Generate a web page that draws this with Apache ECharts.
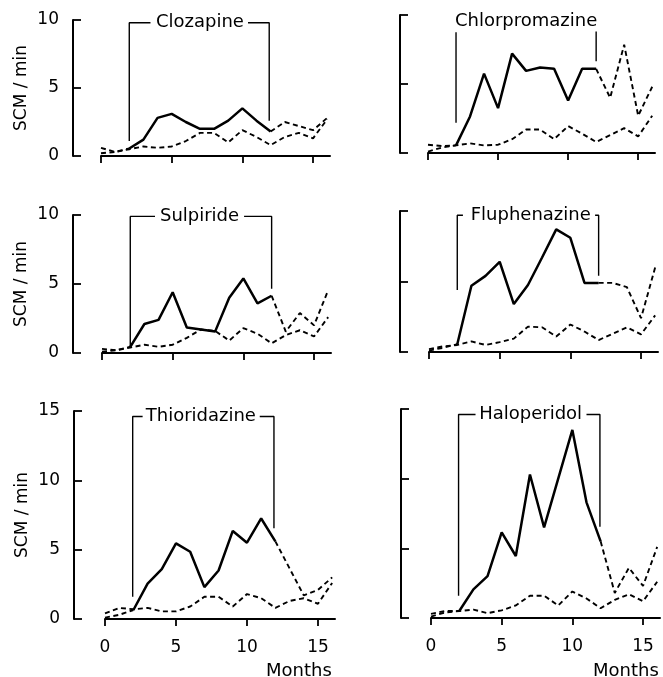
<!DOCTYPE html>
<html>
<head>
<meta charset="utf-8">
<script src="https://cdn.jsdelivr.net/npm/echarts@6/dist/echarts.min.js"></script>
<style>
  html, body { margin: 0; padding: 0; background: #fff; }
  #chart { width: 663px; height: 677px; }
</style>
</head>
<body>
<div id="chart"></div>
<script>
// months 0..16, treatment from month 2 to month 12
const months = [0, 1, 2, 3, 4, 5, 6, 7, 8, 9, 10, 11, 12, 13, 14, 15, 16]
const monthTicks = [0, 5, 10, 15]
const startMonth = 2
const stopMonth = 12

const clozapineDrug = [0.2, 0.3, 0.55, 1.2, 2.8, 3.1, 2.5, 2.0, 2.0, 2.6, 3.5, 2.6, 1.8, 2.5, 2.2, 1.9, 2.8]
const clozapineControl = [0.6, 0.3, 0.5, 0.7, 0.6, 0.7, 1.1, 1.7, 1.7, 1.0, 1.9, 1.4, 0.8, 1.4, 1.7, 1.3, 2.7]
const chlorpromazineDrug = [0.1, 0.4, 0.55, 2.65, 5.75, 3.25, 7.2, 5.95, 6.2, 6.1, 3.8, 6.1, 6.1, 4.0, 7.85, 2.7, 4.8]
const chlorpromazineControl = [0.6, 0.5, 0.55, 0.7, 0.55, 0.6, 1.0, 1.7, 1.7, 1.0, 1.95, 1.4, 0.8, 1.3, 1.8, 1.2, 2.7]
const sulpirideDrug = [0.1, 0.2, 0.45, 2.1, 2.4, 4.4, 1.85, 1.7, 1.55, 4.0, 5.4, 3.6, 4.15, 1.55, 2.9, 2.0, 4.55]
const sulpirideControl = [0.3, 0.2, 0.4, 0.6, 0.45, 0.6, 1.1, 1.7, 1.6, 0.9, 1.8, 1.4, 0.7, 1.3, 1.65, 1.2, 2.6]
const fluphenazineDrug = [0.1, 0.3, 0.55, 4.7, 5.4, 6.4, 3.4, 4.75, 6.7, 8.7, 8.1, 4.9, 4.9, 4.9, 4.6, 2.4, 6.0]
const fluphenazineControl = [0.2, 0.4, 0.5, 0.75, 0.5, 0.7, 0.95, 1.8, 1.75, 1.1, 1.95, 1.45, 0.85, 1.3, 1.75, 1.25, 2.6]
const thioridazineDrug = [0.1, 0.3, 0.65, 2.55, 3.6, 5.45, 4.85, 2.3, 3.5, 6.35, 5.5, 7.25, 5.6, 3.65, 1.7, 2.1, 3.0]
const thioridazineControl = [0.4, 0.8, 0.7, 0.8, 0.55, 0.55, 0.9, 1.6, 1.6, 0.9, 1.8, 1.5, 0.8, 1.3, 1.5, 1.1, 2.6]
const haloperidolDrug = [0.1, 0.4, 0.5, 2.05, 3.0, 6.15, 4.45, 10.3, 6.5, 10.0, 13.5, 8.3, 5.5, 1.8, 3.6, 2.3, 5.1]
const haloperidolControl = [0.3, 0.5, 0.5, 0.6, 0.35, 0.55, 0.9, 1.6, 1.6, 0.9, 1.9, 1.4, 0.7, 1.3, 1.7, 1.2, 2.6]

// treatment brackets [month, value]
const clozapineBracketL = [[2, 1.1], [2, 9.8], [3.5, 9.8]]
const clozapineBracketR = [[10.4, 9.8], [11.9, 9.8], [11.9, 2.6]]
const chlorpromazineBracketL = [[2, 2.2], [2, 8.75]]
const chlorpromazineBracketR = [[12, 6.65], [12, 8.8]]
const sulpirideBracketL = [[2, 0.5], [2, 9.9], [3.75, 9.9]]
const sulpirideBracketR = [[10.05, 9.9], [12, 9.9], [12, 4.65]]
const fluphenazineBracketL = [[2, 4.4], [2, 9.7], [2.4, 9.7]]
const fluphenazineBracketR = [[11.75, 9.7], [12, 9.7], [12, 5.4]]
const thioridazineBracketL = [[1.95, 1.6], [1.95, 14.6], [2.65, 14.6]]
const thioridazineBracketR = [[10.9, 14.6], [11.9, 14.6], [11.9, 6.55]]
const haloperidolBracketL = [[1.95, 1.6], [1.95, 14.6], [3.15, 14.6]]
const haloperidolBracketR = [[11.0, 14.6], [11.95, 14.6], [11.95, 6.55]]

const drugNames = ['Clozapine', 'Chlorpromazine', 'Sulpiride', 'Fluphenazine', 'Thioridazine', 'Haloperidol']
const titlePos = [[7.0, 9.8], [7.0, 9.55], [6.9, 9.9], [7.2, 9.7], [6.75, 14.6], [7.05, 14.6]]
const yMax = [10, 10, 10, 10, 15, 15]

const drugs = [clozapineDrug, chlorpromazineDrug, sulpirideDrug, fluphenazineDrug, thioridazineDrug, haloperidolDrug]
const controls = [clozapineControl, chlorpromazineControl, sulpirideControl, fluphenazineControl, thioridazineControl, haloperidolControl]
const bracketsL = [clozapineBracketL, chlorpromazineBracketL, sulpirideBracketL, fluphenazineBracketL, thioridazineBracketL, haloperidolBracketL]
const bracketsR = [clozapineBracketR, chlorpromazineBracketR, sulpirideBracketR, fluphenazineBracketR, thioridazineBracketR, haloperidolBracketR]

// layout of the six panels (pixels)
const layout = [
  { left: 101, top: 20, width: 229, height: 136, offset: 28 },
  { left: 428, top: 15, width: 227, height: 138, offset: 28 },
  { left: 102, top: 215, width: 229, height: 138, offset: 29 },
  { left: 429, top: 211, width: 229, height: 141, offset: 29 },
  { left: 105, top: 411, width: 230, height: 208, offset: 31 },
  { left: 431, top: 409, width: 229, height: 209, offset: 30 }
]

const FONT = 'DejaVu Sans'
const dashed = [5, 3.5]

function pts(vals, from, to) {
  const out = []
  for (let m = from; m <= to; m++) out.push([months[m], vals[m]])
  return out
}

const grid = [], xAxis = [], yAxis = [], series = []

layout.forEach((l, i) => {
  const leftCol = i % 2 === 0
  const bottomRow = i >= 4
  grid.push({ left: l.left, top: l.top, width: l.width, height: l.height })
  xAxis.push({
    type: 'value', gridIndex: i, min: 0, max: 16.2,
    axisLine: { show: true, onZero: false, lineStyle: { color: '#000', width: 2 } },
    axisTick: { show: true, length: 7, customValues: monthTicks, lineStyle: { color: '#000', width: 1.8 } },
    axisLabel: {
      show: bottomRow, customValues: monthTicks, margin: 20,
      color: '#000', fontSize: 17, fontFamily: FONT
    },
    splitLine: { show: false }
  })
  yAxis.push({
    type: 'value', gridIndex: i, min: 0, max: yMax[i], interval: 5,
    offset: l.offset,
    name: leftCol ? 'SCM / min' : '',
    nameLocation: 'middle', nameGap: 43,
    nameTextStyle: { color: '#000', fontSize: 17, fontFamily: FONT },
    axisLine: { show: true, onZero: false, lineStyle: { color: '#000', width: 2 } },
    axisTick: { show: true, inside: true, length: 8, lineStyle: { color: '#000', width: 1.8 } },
    axisLabel: { show: leftCol, margin: 14, color: '#000', fontSize: 17, fontFamily: FONT },
    splitLine: { show: false }
  })

  const base = { type: 'line', xAxisIndex: i, yAxisIndex: i, symbol: 'none', silent: true, z: 3 }
  // control group
  series.push(Object.assign({}, base, {
    data: pts(controls[i], 0, 16),
    lineStyle: { color: '#000', width: 1.9, type: dashed }
  }))
  // drug group: before, during and after treatment
  series.push(Object.assign({}, base, {
    data: pts(drugs[i], 0, startMonth),
    lineStyle: { color: '#000', width: 1.9, type: dashed }
  }))
  series.push(Object.assign({}, base, {
    data: pts(drugs[i], startMonth, stopMonth),
    lineStyle: { color: '#000', width: 2.5, type: 'solid' }
  }))
  series.push(Object.assign({}, base, {
    data: pts(drugs[i], stopMonth, 16),
    lineStyle: { color: '#000', width: 1.9, type: dashed }
  }))
  // treatment bracket
  ;[bracketsL[i], bracketsR[i]].forEach(b => {
    series.push(Object.assign({}, base, {
      data: b, z: 2,
      lineStyle: { color: '#000', width: 1.4, type: 'solid' }
    }))
  })
  series.push({
    type: 'scatter', xAxisIndex: i, yAxisIndex: i, silent: true,
    symbolSize: 1, itemStyle: { color: 'rgba(0,0,0,0)', opacity: 1 },
    data: [titlePos[i]],
    label: {
      show: true, position: 'inside', formatter: drugNames[i],
      color: '#000', textBorderWidth: 0, fontSize: 18, fontFamily: FONT
    }
  })
})

const chart = echarts.init(document.getElementById('chart'))
chart.setOption({
  animation: false,
  backgroundColor: '#fff',
  textStyle: { fontFamily: FONT },
  title: [
    { text: 'Months', left: 261, top: 657, textStyle: { color: '#000', fontSize: 18, fontWeight: 'normal', fontFamily: FONT } },
    { text: 'Months', left: 588, top: 657, textStyle: { color: '#000', fontSize: 18, fontWeight: 'normal', fontFamily: FONT } }
  ],
  grid: grid,
  xAxis: xAxis,
  yAxis: yAxis,
  series: series
})
</script>
</body>
</html>
